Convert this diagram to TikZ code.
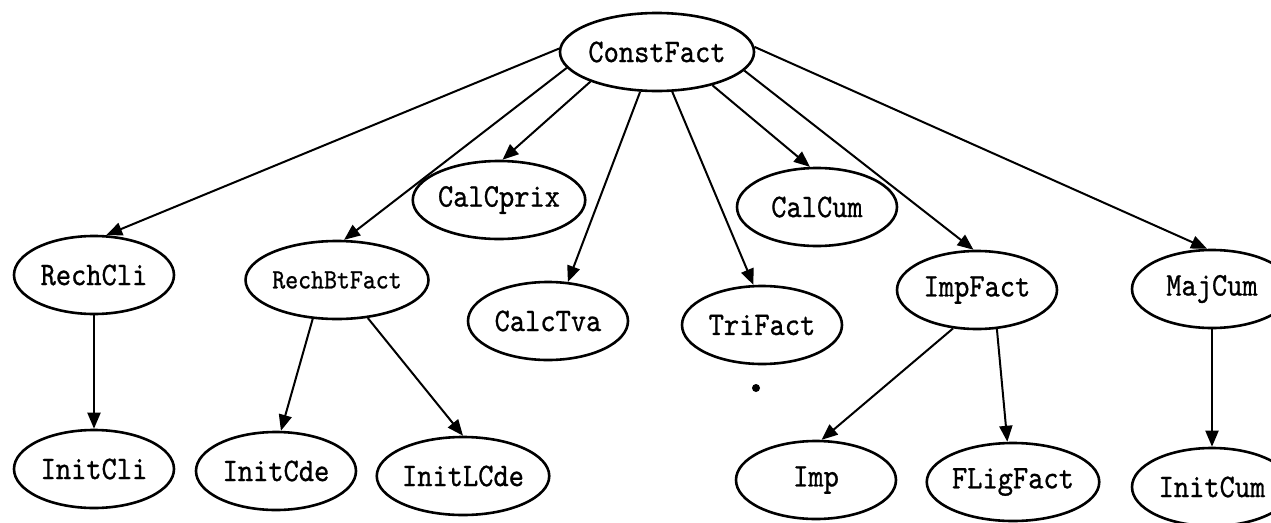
\documentclass[tikz,border=0pt]{standalone}
\usepackage{fontspec}
\newfontfamily\plotfont{lmmono10-regular.otf}[FakeBold=0.8,FakeStretch=0.88]
\usetikzlibrary{shapes.geometric,arrows.meta}
\begin{document}
\begin{tikzpicture}[x=1pt,y=-1pt,
  proc/.style={ellipse,draw,line width=2.6pt,minimum width=160pt,minimum height=78pt,
    inner sep=0pt,font=\fontsize{33}{33}\selectfont\plotfont},
  smalltext/.style={font=\fontsize{28}{28}\selectfont\plotfont},
  call/.style={line width=2pt,-{Triangle[length=16pt,width=13pt]}}]
\useasboundingbox[fill=white] (0,0) rectangle (1271,522);

% root
\node[proc] (ConstFact) at (657,52) {ConstFact};

% first level
\node[proc] (RechCli)    at (94,275)   {RechCli};
\node[proc,smalltext] (RechBtFact) at (337,280) {RechBtFact};
\node[proc] (CalCprix)   at (499,200)  {CalCprix};
\node[proc] (CalcTva)    at (548,321)  {CalcTva};
\node[proc] (TriFact)    at (762,325)  {TriFact};
\node[proc] (CalCum)     at (817,207)  {CalCum};
\node[proc] (ImpFact)    at (977,290)  {ImpFact};
\node[proc] (MajCum)     at (1212,289) {MajCum};

% second level
\node[proc] (InitCli)  at (94,469)   {InitCli};
\node[proc] (InitCde)  at (276,471)  {InitCde};
\node[proc] (InitLCde) at (463,476)  {InitLCde};
\node[proc] (Imp)      at (816,480)  {Imp};
\node[proc] (FLigFact) at (1013,482) {FLigFact};
\node[proc] (InitCum)  at (1212,487) {InitCum};

% ink speck below TriFact
\node[circle,fill,inner sep=0pt,minimum size=8pt] (speck) at (756,388) {};

% calls from the root
\draw[call] (ConstFact.178) -- (RechCli.73);
\draw[call] (ConstFact.190) -- (RechBtFact.80);
\draw[call] (ConstFact.204) -- (CalCprix.85);
\draw[call] (ConstFact.247) -- (CalcTva.63);
\draw[call] (ConstFact.291) -- (TriFact.102);
\draw[call] (ConstFact.329) -- (CalCum.100);
\draw[call] (ConstFact.348) -- (ImpFact.95);
\draw[call] (ConstFact.3)   -- (MajCum.97);

% second-level calls
\draw[call] (RechCli.270)    -- (InitCli.90);
\draw[call] (RechBtFact.238) -- (InitCde.83);
\draw[call] (RechBtFact.309) -- (InitLCde.90);
\draw[call] (ImpFact.238)    -- (Imp.82);
\draw[call] (ImpFact.297)    -- (FLigFact.98);
\draw[call] (MajCum.270)     -- (InitCum.90);
\end{tikzpicture}
\end{document}
